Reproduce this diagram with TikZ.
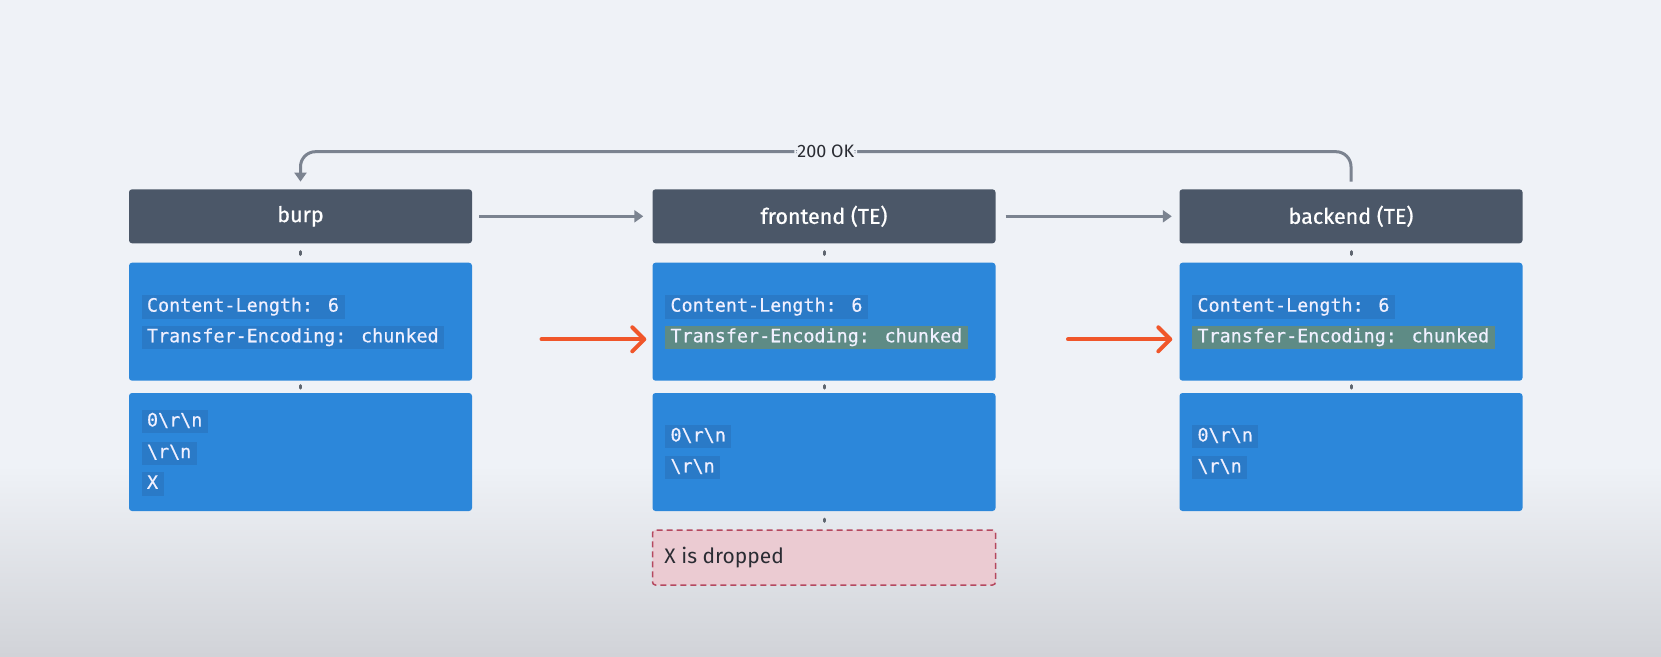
\documentclass[tikz,border=0pt]{standalone}
\usepackage{fontspec}
\setmainfont{Fira Sans}
\newfontfamily\headfont[FakeBold=0.8]{Fira Sans}
\newfontfamily\codefont[FakeBold=0.5]{DejaVu Sans Mono}
\usetikzlibrary{arrows.meta,calc}
\definecolor{bgtop}{HTML}{EFF2F7}
\definecolor{bgbot}{HTML}{D1D3D8}
\definecolor{hdrc}{HTML}{4B5768}
\definecolor{boxc}{HTML}{2C87DA}
\definecolor{hlc}{HTML}{2A7AC7}
\definecolor{tec}{HTML}{5E8B85}
\definecolor{grayc}{HTML}{7B8390}
\definecolor{dotcol}{HTML}{5E656F}
\definecolor{orng}{HTML}{F0562A}
\definecolor{pinkf}{HTML}{EBCBD2}
\definecolor{pinkd}{HTML}{B5485F}
\definecolor{txtc}{HTML}{2A2C33}
\begin{document}
\begin{tikzpicture}[x=1pt,y=-1pt,
  hdr/.style={fill=hdrc, rounded corners=3pt, minimum width=343pt, minimum height=54pt, inner sep=0pt, text=white, font=\headfont\fontsize{21.5}{24}\selectfont},
  bluebox/.style={fill=boxc, rounded corners=3pt, minimum width=343pt, minimum height=118pt, inner sep=0pt},
  codeline/.style={fill=hlc, anchor=west, inner xsep=5.5pt, inner ysep=2.5pt, text height=14pt, text depth=4.5pt, text=white!94!blue, font=\codefont\fontsize{18.4}{20}\selectfont},
  teline/.style={codeline, fill=tec},
  dropbox/.style={fill=pinkf, draw=pinkd, line width=1.5pt, dash pattern=on 6pt off 4pt, rounded corners=3pt, minimum width=343pt, minimum height=55pt, inner sep=0pt},
  flow/.style={draw=grayc, line width=3pt, -{Triangle[length=9pt,width=12pt]}},
  dotc/.style={draw=dotcol, line width=3pt, line cap=round},
  hit/.style={draw=orng, line width=4pt, line cap=round, -{Straight Barb[length=12pt,width=24pt,round]}},
  lbl/.style={fill=bgtop, inner xsep=3pt, inner ysep=1pt, text=txtc, font=\fontsize{18}{20}\selectfont}
]
\fill[bgtop] (0,0) rectangle (1661,466);
\shade[top color=bgtop, bottom color=bgbot] (0,465) rectangle (1661,656);
\useasboundingbox (0,0) rectangle (1661,656);

% headers
\node[hdr] (bu) at (300.5,216.3) {burp};
\node[hdr] (fe) at (824,216.3) {frontend (TE)};
\node[hdr] (be) at (1351,216.3) {backend (TE)};

% header boxes
\node[bluebox] (bb1) at (300.5,321.7) {};
\node[bluebox] (fb1) at (824,321.7) {};
\node[bluebox] (eb1) at (1351,321.7) {};
% body boxes
\node[bluebox] (bb2) at (300.5,452) {};
\node[bluebox] (fb2) at (824,452) {};
\node[bluebox] (eb2) at (1351,452) {};

% code lines
\node[codeline] (bcl) at ([xshift=12.5pt,yshift=14.8pt]bb1.west) {Content-Length: 6};
\node[codeline] (bte) at ([xshift=12.5pt,yshift=-15.8pt]bb1.west) {Transfer-Encoding: chunked};
\node[codeline] (fcl) at ([xshift=12.5pt,yshift=14.8pt]fb1.west) {Content-Length: 6};
\node[teline] (fte) at ([xshift=12.5pt,yshift=-15.8pt]fb1.west) {Transfer-Encoding: chunked};
\node[codeline] (ecl) at ([xshift=12.5pt,yshift=14.8pt]eb1.west) {Content-Length: 6};
\node[teline] (ete) at ([xshift=12.5pt,yshift=-15.8pt]eb1.west) {Transfer-Encoding: chunked};

\node[codeline] (bz) at ([xshift=12.5pt,yshift=30.3pt]bb2.west) {0\textbackslash r\textbackslash n};
\node[codeline] (brn) at ([xshift=12.5pt,yshift=-1.3pt]bb2.west) {\textbackslash r\textbackslash n};
\node[codeline] (bx) at ([xshift=12.5pt,yshift=-32pt]bb2.west) {X};
\node[codeline] (fz) at ([xshift=12.5pt,yshift=15.3pt]fb2.west) {0\textbackslash r\textbackslash n};
\node[codeline] (frn) at ([xshift=12.5pt,yshift=-15.7pt]fb2.west) {\textbackslash r\textbackslash n};
\node[codeline] (ez) at ([xshift=12.5pt,yshift=15.3pt]eb2.west) {0\textbackslash r\textbackslash n};
\node[codeline] (ern) at ([xshift=12.5pt,yshift=-15.7pt]eb2.west) {\textbackslash r\textbackslash n};

% dropped box
\node[dropbox] (drop) at (824,557.5) {};
\node[anchor=west, inner sep=0pt, text=txtc, font=\fontsize{21}{24}\selectfont] (droptxt) at ([xshift=12.5pt]drop.west) {X is dropped};

% small connectors
\foreach \h/\a/\b in {bu/bb1/bb2, fe/fb1/fb2, be/eb1/eb2}{
  \draw[dotc, shorten <=8pt, shorten >=8pt] (\h.south) -- (\a.north);
  \draw[dotc, shorten <=4.6pt, shorten >=4.6pt] (\a.south) -- (\b.north);
}
\draw[dotc, shorten <=8pt, shorten >=8pt] (fb2.south) -- (drop.north);

% flow arrows
\draw[flow, shorten <=7pt, shorten >=9pt] (bu.east) -- (fe.west);
\draw[flow, shorten <=10pt, shorten >=7.5pt] (fe.east) -- (be.west);

% return
\coordinate (top) at (0,151.7);
\draw[flow, rounded corners=15pt, shorten <=7.5pt, shorten >=7.5pt] (be.north) -- (be.north |- top) -- node[lbl] (ok) {200 OK} (bu.north |- top) -- (bu.north);

% orange arrows
\coordinate (o1) at (541.5,339.3);
\coordinate (o2) at (1068,339.3);
\draw[hit, shorten >=6pt] (o1) -- (o1 -| fb1.west);
\draw[hit, shorten >=7pt] (o2) -- (o2 -| eb1.west);
\end{tikzpicture}
\end{document}
